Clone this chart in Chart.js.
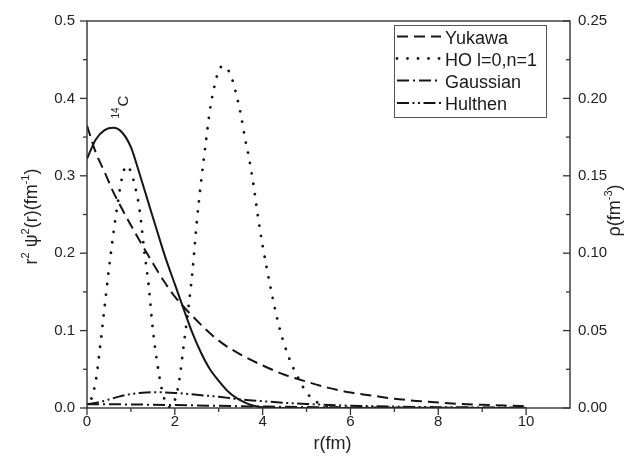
<!DOCTYPE html>
<html><head><meta charset="utf-8">
<script src="https://cdn.jsdelivr.net/npm/chart.js@4.4.1/dist/chart.umd.min.js"></script>
<style>html,body{margin:0;padding:0;background:#fff}#wrap{width:626px;height:456px}</style>
</head><body><div id="wrap"><canvas id="c" width="626" height="456"></canvas></div>
<script>
// ---- tick labels ----
const xTicks = [0, 2, 4, 6, 8, 10];
const yLeftTicks = [0, 0.1, 0.2, 0.3, 0.4, 0.5];
const yRightTicks = [0, 0.05, 0.10, 0.15, 0.20, 0.25];

// ---- series ----
// 14C density (right axis, rho in fm^-3)
const r14C = [0,0.2,0.4,0.6,0.8,1.0,1.2,1.4,1.6,1.8,2.0,2.2,2.4,2.6,2.8,3.0,3.2,3.4,3.6,3.8,4.0,4.5,5,6,7,8,9,10];
const rho14C = [0.161,0.1735,0.1795,0.181,0.178,0.1685,0.151,0.1325,0.114,0.096,0.080,0.064,0.0485,0.0355,0.025,0.0175,0.011,0.0065,0.0035,0.0015,0.0005,0,0,0,0,0,0,0];

const rYukawa = [0,0.2,0.4,0.6,0.8,1.0,1.25,1.5,1.75,2.0,2.5,3.0,3.5,4.0,4.5,5.0,5.5,6.0,6.5,7.0,7.5,8.0,8.5,9.0,9.5,10.0];
const vYukawa = [0.365,0.33,0.305,0.279,0.257,0.236,0.211,0.187,0.164,0.144,0.113,0.087,0.069,0.055,0.043,0.034,0.026,0.020,0.016,0.012,0.0092,0.007,0.0053,0.0041,0.0031,0.0025];

const rHO = [0,0.1,0.2,0.3,0.4,0.5,0.6,0.7,0.8,0.9,1.0,1.1,1.2,1.3,1.4,1.5,1.6,1.7,1.8,1.9,2.0,2.1,2.2,2.3,2.4,2.5,2.6,2.7,2.8,2.9,3.0,3.1,3.2,3.3,3.4,3.5,3.6,3.7,3.8,3.9,4.0,4.2,4.4,4.6,4.8,5.0,5.2,5.4,5.6,6.0];
const vHO = [0,0.012,0.035,0.08,0.13,0.18,0.225,0.265,0.298,0.313,0.305,0.285,0.255,0.205,0.16,0.101,0.058,0.025,0.006,0.001,0.01,0.035,0.08,0.125,0.175,0.24,0.293,0.34,0.385,0.415,0.436,0.442,0.438,0.426,0.405,0.38,0.348,0.32,0.285,0.245,0.21,0.15,0.10,0.065,0.04,0.02,0.009,0.003,0.001,0];

const rGauss = [0,1,2,3,4,5,6,7,8,9,10];
const vGauss = [0.005,0.0046,0.0038,0.0028,0.0019,0.0012,0.0008,0.0005,0.0003,0.0002,0.0001];

const rHulthen = [0,0.25,0.5,0.75,1.0,1.25,1.5,1.75,2.0,2.5,3.0,3.5,4.0,4.5,5.0,6.0,7.0,8.0,9.0,10.0];
const vHulthen = [0.005,0.007,0.011,0.015,0.018,0.0198,0.0205,0.0202,0.0195,0.017,0.0145,0.011,0.0088,0.0067,0.0052,0.003,0.0018,0.0011,0.0007,0.0004];

const legendNames = ['Yukawa', 'HO l=0,n=1', 'Gaussian', 'Hulthen'];

const INK = '#151515';
const AX = '#333333';
const FONT = '"Liberation Sans", Arial, sans-serif';
function pts(xs, ys) { return xs.map((x, i) => ({ x: x, y: ys[i] })); }
function base(extra) {
  return Object.assign({ borderColor: INK, backgroundColor: INK, pointRadius: 0, borderWidth: 2,
    cubicInterpolationMode: 'monotone', fill: false, borderCapStyle: 'butt' }, extra);
}

const datasets = [
  base({ label: '14C', data: pts(r14C, rho14C), yAxisID: 'y2' }),
  base({ label: legendNames[0], data: pts(rYukawa, vYukawa), yAxisID: 'y', borderDash: [11, 6] }),
  base({ label: legendNames[1], data: pts(rHO, vHO), yAxisID: 'y', borderDash: [0.01, 10.5], borderCapStyle: 'round', borderWidth: 2.8 }),
  base({ label: legendNames[2], data: pts(rGauss, vGauss), yAxisID: 'y', borderDash: [12, 4, 2, 4] }),
  base({ label: legendNames[3], data: pts(rHulthen, vHulthen), yAxisID: 'y', borderDash: [12, 3.5, 2, 3.5, 2, 3.5] })
];

function setTicks(arr) { return function (s) { s.ticks = arr.map(v => ({ value: v })); }; }

function drawSuperText(ctx, parts, x, y, big, small) {
  let cx = x;
  for (const [t, sup] of parts) {
    ctx.font = (sup ? small : big) + 'px ' + FONT;
    ctx.fillText(t, cx, sup ? y - big * 0.42 : y);
    cx += ctx.measureText(t).width;
  }
  return cx - x;
}
function measureSuper(ctx, parts, big, small) {
  let w = 0;
  for (const [t, sup] of parts) { ctx.font = (sup ? small : big) + 'px ' + FONT; w += ctx.measureText(t).width; }
  return w;
}

const decor = {
  id: 'decor',
  afterDraw(chart) {
    const ctx = chart.ctx, a = chart.chartArea;
    const xs = chart.scales.x, yl = chart.scales.y, yr = chart.scales.y2;
    ctx.save();
    // frame
    ctx.strokeStyle = AX; ctx.lineWidth = 1.4; ctx.setLineDash([]);
    ctx.strokeRect(a.left, a.top, a.right - a.left, a.bottom - a.top);
    // ticks
    const tick = (x1, y1, x2, y2) => { ctx.beginPath(); ctx.moveTo(x1, y1); ctx.lineTo(x2, y2); ctx.stroke(); };
    const mids = arr => arr.slice(1).map((v, i) => (v + arr[i]) / 2);
    ctx.lineWidth = 1.3;
    xTicks.forEach(v => { const p = xs.getPixelForValue(v); tick(p, a.bottom, p, a.bottom + 7); });
    mids(xTicks).concat([xTicks[xTicks.length - 1] + 1]).forEach(v => { const p = xs.getPixelForValue(v); if (p <= a.right - 2) tick(p, a.bottom, p, a.bottom + 4); });
    yLeftTicks.forEach(v => { const p = yl.getPixelForValue(v); tick(a.left, p, a.left - 7, p); });
    mids(yLeftTicks).forEach(v => { const p = yl.getPixelForValue(v); tick(a.left, p, a.left - 4, p); });
    yRightTicks.forEach(v => { const p = yr.getPixelForValue(v); tick(a.right, p, a.right - 7, p); });
    mids(yRightTicks).forEach(v => { const p = yr.getPixelForValue(v); tick(a.right, p, a.right - 4, p); });

    ctx.fillStyle = '#222';
    // x title
    ctx.font = '18px ' + FONT; ctx.textAlign = 'center'; ctx.textBaseline = 'alphabetic';
    ctx.fillText('r(fm)', (a.left + a.right) / 2 + 4, 449);
    ctx.textAlign = 'left';
    // left title (rotated)
    const lparts = [['r', false], ['2', true], [' \u03C8', false], ['2', true], ['(r)(fm', false], ['-1', true], [')', false]];
    ctx.save();
    ctx.translate(37, (a.top + a.bottom) / 2 + 2);
    ctx.rotate(-Math.PI / 2);
    const lw = measureSuper(ctx, lparts, 18, 11);
    drawSuperText(ctx, lparts, -lw / 2, 0, 18, 11);
    ctx.restore();
    // right title
    const rparts = [['\u03C1(fm', false], ['-3', true], [')', false]];
    ctx.save();
    ctx.translate(620, (a.top + a.bottom) / 2 - 4);
    ctx.rotate(-Math.PI / 2);
    const rw = measureSuper(ctx, rparts, 18, 11);
    drawSuperText(ctx, rparts, -rw / 2, 0, 18, 11);
    ctx.restore();
    // 14C label
    ctx.save();
    ctx.translate(xs.getPixelForValue(0.93), yl.getPixelForValue(0.374));
    ctx.rotate(-Math.PI / 2);
    ctx.font = '10px ' + FONT; ctx.fillText('14', 0, -8.5);
    const w14 = ctx.measureText('14').width;
    ctx.font = '15px ' + FONT; ctx.fillText('C', w14 + 1, 0);
    ctx.restore();
    // legend
    const bx = a.right - 176, by = a.top + 4, bw = 152, bh = 92;
    ctx.strokeStyle = '#555'; ctx.lineWidth = 1; ctx.setLineDash([]);
    ctx.strokeRect(bx + 0.5, by + 0.5, bw, bh);
    const rows = [37.5, 59.5, 81.5, 104];
    ctx.font = '18px ' + FONT; ctx.textBaseline = 'alphabetic'; ctx.fillStyle = '#1a1a1a';
    for (let i = 0; i < 4; i++) {
      const ds = chart.data.datasets[i + 1];
      const cy = rows[i];
      ctx.save();
      ctx.strokeStyle = INK; ctx.lineWidth = ds.borderWidth; ctx.lineCap = ds.borderCapStyle || 'butt';
      ctx.setLineDash(ds.borderDash || []);
      ctx.beginPath(); ctx.moveTo(bx + 3, cy - 1); ctx.lineTo(bx + 47, cy - 1); ctx.stroke();
      ctx.restore();
      ctx.fillText(ds.label, bx + 51, cy + 6.4);
    }
    ctx.restore();
  }
};

new Chart(document.getElementById('c'), {
  type: 'line',
  data: { datasets: datasets },
  options: {
    responsive: false, animation: false, devicePixelRatio: 1,
    layout: { padding: { top: 20, left: 0, right: 0, bottom: 0 } },
    plugins: { legend: { display: false }, tooltip: { enabled: false } },
    elements: { line: { borderJoinStyle: 'round' } },
    scales: {
      x: {
        type: 'linear', min: 0, max: 11, position: 'bottom',
        afterBuildTicks: setTicks(xTicks),
        afterFit: s => { s.height = 48; },
        grid: { display: false, drawTicks: false }, border: { display: false },
        ticks: { padding: 5, color: '#222', font: { family: FONT, size: 15 }, maxRotation: 0, callback: v => String(v) }
      },
      y: {
        type: 'linear', min: 0, max: 0.5, position: 'left',
        afterBuildTicks: setTicks(yLeftTicks),
        afterFit: s => { s.width = 87; },
        grid: { display: false, drawTicks: false }, border: { display: false },
        ticks: { padding: 12, color: '#222', font: { family: FONT, size: 15 }, callback: v => Number(v).toFixed(1) }
      },
      y2: {
        type: 'linear', min: 0, max: 0.25, position: 'right',
        afterBuildTicks: setTicks(yRightTicks),
        afterFit: s => { s.width = 56; },
        grid: { display: false, drawTicks: false }, border: { display: false },
        ticks: { padding: 8, color: '#222', font: { family: FONT, size: 15 }, callback: v => Number(v).toFixed(2) }
      }
    }
  },
  plugins: [decor]
});
</script>
</body></html>
